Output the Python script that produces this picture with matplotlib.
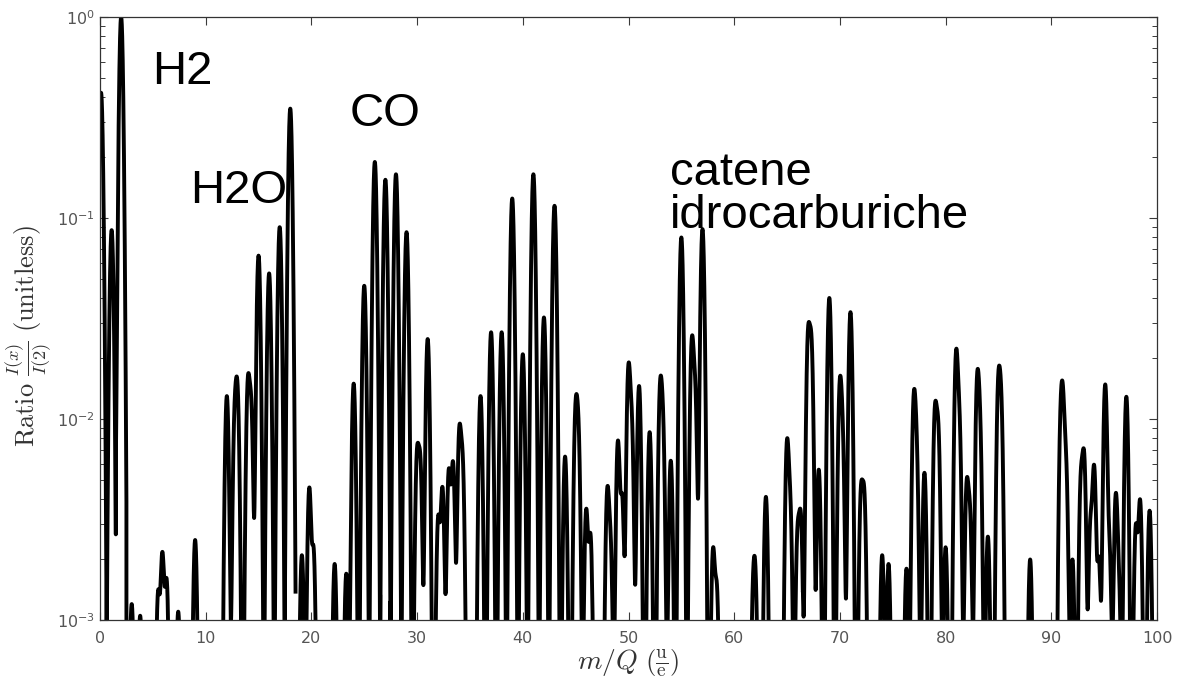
import numpy as np
import matplotlib
matplotlib.use("Agg")
import matplotlib.pyplot as plt
from matplotlib.ticker import LogLocator, FixedLocator, NullFormatter

# Peak positions (m/Q) and heights (ratio to I(2))
masses = [0.1, 1.1, 2.0, 3.0, 3.8, 5.5, 5.9, 6.3, 7.4, 9.0,
          12.0, 12.75, 13.0, 14.0, 14.3, 15.0, 16.0, 17.0, 18.0,
          19.1, 19.8, 20.2, 22.2, 23.3,
          24.0, 25.0, 26.0, 27.0, 28.0, 29.0, 30.0, 30.3, 31.0,
          32.0, 32.4, 33.0, 33.4, 34.0, 34.3,
          36.0, 37.0, 38.0, 39.0, 40.0, 41.0, 42.0, 43.0, 44.0, 45.0, 45.25,
          46.0, 46.4, 48.0, 48.3, 49.0, 49.4, 50.0, 50.3, 51.0, 52.0, 53.0, 53.25,
          54.0, 55.0, 56.0, 56.3, 57.0, 58.0, 58.35,
          61.8, 62.0, 63.0, 65.0, 65.3, 66.0, 66.3, 67.0, 67.3, 68.0, 69.0,
          70.0, 70.25, 71.0, 72.0, 72.3, 74.0, 74.6, 76.3, 77.0, 77.25, 78.0,
          79.0, 79.3, 80.0, 81.0, 81.3, 82.0, 82.3, 83.0, 83.25, 84.0, 85.0, 85.25,
          88.0, 90.9, 91.1, 91.4, 92.0, 92.8, 93.1, 93.7, 94.05, 94.5,
          95.1, 95.5, 96.1, 96.4, 97.1, 98.0, 98.4, 99.3]
heights = [0.42, 0.087, 1.0, 0.0012, 0.00105, 0.00135, 0.0021, 0.00155, 0.0011, 0.0025,
           0.013, 0.0095, 0.013, 0.015, 0.011, 0.065, 0.053, 0.09, 0.35,
           0.0021, 0.0045, 0.0022, 0.0019, 0.0017,
           0.015, 0.046, 0.19, 0.155, 0.165, 0.085, 0.0065, 0.0058, 0.025,
           0.0032, 0.0045, 0.0055, 0.006, 0.0085, 0.0058,
           0.013, 0.027, 0.027, 0.125, 0.021, 0.165, 0.032, 0.115, 0.0065, 0.0105, 0.008,
           0.0035, 0.0026, 0.0043, 0.0022, 0.0077, 0.004, 0.0177, 0.009, 0.0146, 0.0086, 0.0137, 0.0085,
           0.0062, 0.08, 0.024, 0.013, 0.088, 0.0022, 0.0014,
           0.0012, 0.0014, 0.0041, 0.0075, 0.0034, 0.0026, 0.0031, 0.026, 0.023, 0.0056, 0.04,
           0.0143, 0.007, 0.034, 0.0042, 0.004, 0.0021, 0.0019, 0.0018, 0.0123, 0.006, 0.0054,
           0.0108, 0.0085, 0.0023, 0.021, 0.009, 0.0046, 0.0032, 0.0153, 0.008, 0.0026, 0.0146, 0.011,
           0.002, 0.0087, 0.0104, 0.0053, 0.002, 0.0048, 0.0063, 0.0029, 0.0057, 0.002,
           0.0148, 0.0022, 0.0041, 0.0013, 0.0129, 0.0029, 0.0039, 0.0035]

x_ticks = [0, 10, 20, 30, 40, 50, 60, 70, 80, 90, 100]
labels = ["H2", "H2O", "CO", "catene\nidrocarburiche"]

# peak shape (instrument resolution) and window
sigma = 0.15
half_window = 0.5

x = np.arange(0, 100.0001, 0.004)
y = np.zeros_like(x)
for m, a in zip(masses, heights):
    sel = np.abs(x - m) <= half_window
    y[sel] += a * np.exp(-(x[sel] - m) ** 2 / (2 * sigma ** 2))
y[y <= 0] = np.nan

W, H = 1181, 686
fig = plt.figure(figsize=(W / 100, H / 100), dpi=100)
ax = fig.add_axes([100 / W, 1 - 620 / H, 1057 / W, (620 - 17) / H])
ax.plot(x, y, color="black", lw=2.8, solid_joinstyle="round", solid_capstyle="butt")
ax.set_yscale("log")
ax.set_xlim(0, 100)
ax.set_ylim(1e-3, 1)
ax.xaxis.set_major_locator(FixedLocator(x_ticks))
ax.yaxis.set_major_locator(LogLocator(base=10, numticks=10))
ax.yaxis.set_minor_locator(LogLocator(base=10, subs=np.arange(2, 10), numticks=20))
ax.yaxis.set_minor_formatter(NullFormatter())
ax.tick_params(which="both", direction="in", top=True, right=True, colors="#3a3a3a",
               labelcolor="#555555", labelsize=11.5)
ax.tick_params(axis="x", pad=8)
ax.tick_params(which="major", length=6, width=0.8)
ax.tick_params(which="minor", length=3.5, width=0.7)
for s in ax.spines.values():
    s.set_color("#333333")
    s.set_linewidth(0.9)

ax.set_xlabel(r"$m/Q\ \left(\frac{\mathrm{u}}{\mathrm{e}}\right)$", fontsize=20,
              color="#333333", math_fontfamily="cm")
ax.set_ylabel(r"$\mathrm{Ratio}\ \frac{I(x)}{I(2)}\ \mathrm{(unitless)}$", fontsize=19,
              color="#333333", math_fontfamily="cm")
ax.xaxis.set_label_coords(0.5, -0.046)
ax.yaxis.set_label_coords(-0.044, 0.47)

fs = 34
fam = ["Liberation Sans", "DejaVu Sans"]
def ftext(px, py, s, **kw):
    fig.text(px / W, 1 - py / H, s, fontsize=fs, family=fam, va="baseline", ha="left", **kw)

ftext(152, 84, labels[0])
ftext(190, 203, labels[1])
ftext(350, 126, labels[2])
c1, c2 = labels[3].split("\n")
ftext(670, 185, c1)
ftext(670, 228, c2)

fig.savefig("out.png", dpi=100)
